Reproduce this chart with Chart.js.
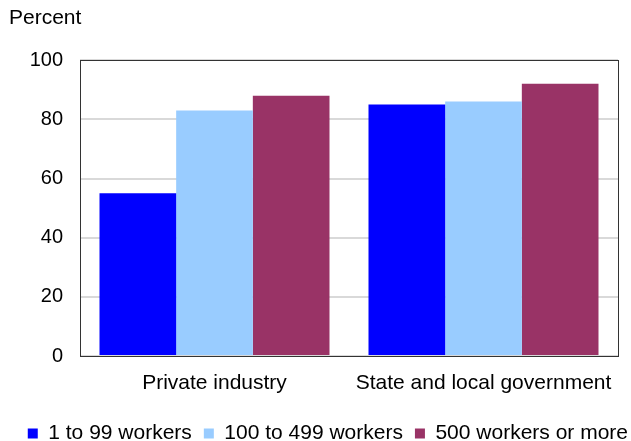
<!DOCTYPE html>
<html>
<head>
<meta charset="utf-8">
<script src="https://cdn.jsdelivr.net/npm/chart.js@4.4.1/dist/chart.umd.min.js"></script>
<style>
  html, body { margin: 0; padding: 0; background: #fff; }
  #wrap { width: 631px; height: 441px; }
</style>
</head>
<body>
<div id="wrap"><canvas id="chart"></canvas></div>
<script>
// data
const categories = ['Private industry', 'State and local government'];
const seriesNames = ['1 to 99 workers', '100 to 499 workers', '500 workers or more'];
const small = [55, 85];
const medium = [83, 86];
const large = [88, 92];
const yTicks = [0, 20, 40, 60, 80, 100];

const colors = ['#0000ff', '#99ccff', '#993366'];

Chart.defaults.font.family = '"Liberation Sans", Arial, sans-serif';
Chart.defaults.font.size = 21;
Chart.defaults.color = '#000';

// frame around the plot area
const frame = {
    id: 'frame',
    afterDatasetsDraw(chart) {
        const a = chart.chartArea;
        const ctx = chart.ctx;
        ctx.save();
        ctx.strokeStyle = '#333';
        ctx.lineWidth = 1;
        ctx.strokeRect(Math.round(a.left) + 0.5, Math.round(a.top) + 0.5,
            Math.round(a.right - a.left), Math.round(a.bottom - a.top));
        ctx.restore();
    }
};

new Chart(document.getElementById('chart'), {
    type: 'bar',
    data: {
        labels: categories,
        datasets: [small, medium, large].map((vals, i) => ({
            label: seriesNames[i],
            data: vals,
            backgroundColor: colors[i],
            borderWidth: 0,
            barPercentage: 1,
            categoryPercentage: 0.855
        }))
    },
    options: {
        responsive: true,
        maintainAspectRatio: false,
        animation: false,
        layout: { padding: { left: 9, right: -9, top: 0, bottom: -13 } },
        plugins: {
            title: {
                display: true,
                text: 'Percent',
                align: 'start',
                font: { size: 21, weight: 'normal' },
                padding: { top: 6, bottom: 29 }
            },
            legend: {
                position: 'bottom',
                align: 'end',
                labels: {
                    boxWidth: 10,
                    boxHeight: 10,
                    padding: 12,
                    font: { size: 21 }
                }
            },
            tooltip: { enabled: false }
        },
        scales: {
            x: {
                afterFit(scale) { scale.height = 55; },
                grid: { display: false, drawTicks: false },
                border: { display: false },
                ticks: { padding: 15, font: { size: 21 } }
            },
            y: {
                min: 0,
                max: 100,
                afterFit(scale) { scale.width = 71; },
                afterBuildTicks(scale) { scale.ticks = yTicks.map(v => ({ value: v })); },
                grid: { color: '#d9d9d9', lineWidth: 2, drawTicks: false },
                border: { display: false },
                ticks: { padding: 17, font: { size: 20 } }
            },
            // empty right axis, only keeps the plot clear of the right edge
            yRight: {
                position: 'right',
                min: 0,
                max: 1,
                afterFit(scale) { scale.width = 22; },
                grid: { display: false, drawTicks: false },
                border: { display: false },
                ticks: { display: false }
            }
        }
    },
    plugins: [frame]
});
</script>
</body>
</html>
